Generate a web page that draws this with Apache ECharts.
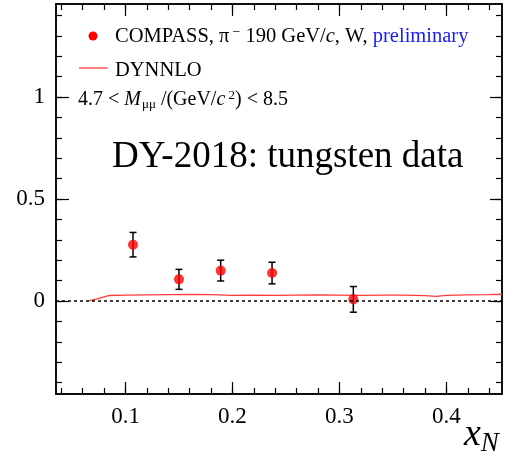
<!DOCTYPE html>
<html>
<head>
<meta charset="utf-8">
<script src="https://cdn.jsdelivr.net/npm/echarts@6/dist/echarts.min.js"></script>
<style>html,body{margin:0;padding:0;background:#fff;}#c{width:529px;height:463px;}</style>
</head>
<body>
<div id="c"></div>
<script>
// ---- data ----
var xN = [0.107, 0.150, 0.189, 0.237, 0.313];
var asym = [0.276, 0.106, 0.149, 0.137, 0.008];
var asymErr = [0.060, 0.049, 0.051, 0.053, 0.063];
var dynX = [0.066, 0.075, 0.085, 0.100, 0.120, 0.140, 0.160, 0.180, 0.200, 0.220, 0.240, 0.260, 0.280, 0.300, 0.320, 0.340, 0.360, 0.380, 0.390, 0.400, 0.420, 0.440, 0.452];
var dynY = [0.000, 0.013, 0.027, 0.029, 0.030, 0.031, 0.032, 0.031, 0.028, 0.029, 0.028, 0.029, 0.030, 0.029, 0.028, 0.029, 0.029, 0.026, 0.023, 0.028, 0.030, 0.031, 0.033];
var xMajorTicks = [0.1, 0.2, 0.3, 0.4];
var xMinorTicks = [0.04, 0.06, 0.08, 0.10, 0.12, 0.14, 0.16, 0.18, 0.20, 0.22, 0.24, 0.26, 0.28, 0.30, 0.32, 0.34, 0.36, 0.38, 0.40, 0.42, 0.44];
var yMajorTicks = [0, 0.5, 1];
var yMinorTicks = [-0.4, -0.3, -0.2, -0.1, 0, 0.1, 0.2, 0.3, 0.4, 0.5, 0.6, 0.7, 0.8, 0.9, 1.0, 1.1, 1.2, 1.3, 1.4];
var xLabels = ['0.1', '0.2', '0.3', '0.4'];
var yLabels = ['0', '0.5', '1'];

var FONT = 'Liberation Serif';
var XMIN = 0.035, XMAX = 0.452, YMIN = -0.456, YMAX = 1.456;

function xAxisDef(pos, ticks, len, labels) {
  return {
    type: 'value', position: pos, min: XMIN, max: XMAX,
    axisLine: {show: true, onZero: false, lineStyle: {color: '#000', width: 1.5}},
    axisTick: {show: true, inside: true, length: len, customValues: ticks, lineStyle: {color: '#000', width: 1.2}},
    axisLabel: labels ? {show: true, customValues: xMajorTicks, margin: 11, fontFamily: FONT, fontSize: 23, color: '#000',
      formatter: function (v) { var i = xMajorTicks.indexOf(+v.toFixed(3)); return i >= 0 ? xLabels[i] : ''; }} : {show: false},
    splitLine: {show: false}
  };
}
function yAxisDef(pos, ticks, len, labels) {
  return {
    type: 'value', position: pos, min: YMIN, max: YMAX,
    axisLine: {show: true, onZero: false, lineStyle: {color: '#000', width: 1.5}},
    axisTick: {show: true, inside: true, length: len, customValues: ticks, lineStyle: {color: '#000', width: 1.2}},
    axisLabel: labels ? {show: true, customValues: yMajorTicks, margin: 11, fontFamily: FONT, fontSize: 23, color: '#000',
      formatter: function (v) { var i = yMajorTicks.indexOf(+v.toFixed(3)); return i >= 0 ? yLabels[i] : ''; }} : {show: false},
    splitLine: {show: false}
  };
}

var chart = echarts.init(document.getElementById('c'), null, {renderer: 'canvas'});
var scatterData = xN.map(function (x, i) { return [x, asym[i]]; });
var errData = xN.map(function (x, i) { return [x, asym[i], asymErr[i]]; });
var lineData = dynX.map(function (x, i) { return [x, dynY[i]]; });

chart.setOption({
  animation: false,
  backgroundColor: '#fff',
  grid: {left: 56, right: 27, top: 4, bottom: 69, containLabel: false},
  xAxis: [
    xAxisDef('bottom', xMajorTicks, 12, true),
    xAxisDef('bottom', xMinorTicks, 6, false),
    xAxisDef('top', xMajorTicks, 12, false),
    xAxisDef('top', xMinorTicks, 6, false)
  ],
  yAxis: [
    yAxisDef('left', yMajorTicks, 13, true),
    yAxisDef('left', yMinorTicks, 6, false),
    yAxisDef('right', yMajorTicks, 12, false),
    yAxisDef('right', yMinorTicks, 6, false)
  ],
  series: [
    {
      name: 'DYNNLO', type: 'line', data: lineData, showSymbol: false, symbol: 'none',
      lineStyle: {color: '#ff3b3b', width: 1.3}, z: 2,
      markLine: {
        silent: true, symbol: 'none', label: {show: false},
        lineStyle: {color: '#000', type: [3, 3], width: 1.5},
        data: [{yAxis: 0}]
      }
    },
    {
      name: 'errors', type: 'custom', data: errData, z: 3,
      renderItem: function (params, api) {
        var x = api.value(0), y = api.value(1), e = api.value(2);
        var top = api.coord([x, y + e]);
        var bot = api.coord([x, y - e]);
        var cw = 3.5;
        var st = {stroke: '#000', lineWidth: 1.5};
        return {type: 'group', children: [
          {type: 'line', shape: {x1: top[0], y1: top[1], x2: bot[0], y2: bot[1]}, style: st},
          {type: 'line', shape: {x1: top[0] - cw, y1: top[1], x2: top[0] + cw, y2: top[1]}, style: st},
          {type: 'line', shape: {x1: bot[0] - cw, y1: bot[1], x2: bot[0] + cw, y2: bot[1]}, style: st}
        ]};
      }
    },
    {
      name: 'COMPASS', type: 'scatter', data: scatterData, symbol: 'circle', symbolSize: 10,
      itemStyle: {color: '#ff0000'}, z: 4
    }
  ],
  graphic: [
    {type: 'circle', shape: {cx: 93, cy: 36, r: 4.5}, style: {fill: '#ff0000'}},
    {type: 'text', left: 115, top: 25, style: {
      text: '{n|COMPASS, π}{s|−}{n| 190 GeV/}{i|c}{n|, W, }{b|preliminary}',
      rich: {
        n: {fontFamily: FONT, fontSize: 20.5, fill: '#000'},
        i: {fontFamily: FONT, fontSize: 20.5, fontStyle: 'italic', fill: '#000'},
        s: {fontFamily: FONT, fontSize: 14, fill: '#000', padding: [0, 0, 9, 3]},
        b: {fontFamily: FONT, fontSize: 20.5, fill: '#1a1aff'}
      }
    }},
    {type: 'line', shape: {x1: 79, y1: 68, x2: 108, y2: 68}, style: {stroke: '#ff3b3b', lineWidth: 1.3}},
    {type: 'text', left: 115, top: 60, style: {text: 'DYNNLO', fontFamily: FONT, fontSize: 20.5, fill: '#000'}},
    {type: 'text', left: 78, top: 89, style: {
      text: '{n|4.7 < }{i|M}{u|μμ}{n| /(GeV/}{i|c}{s| 2}{n|) < 8.5}',
      rich: {
        n: {fontFamily: FONT, fontSize: 20, fill: '#000'},
        i: {fontFamily: FONT, fontSize: 20, fontStyle: 'italic', fill: '#000'},
        u: {fontFamily: FONT, fontSize: 13, fill: '#000', padding: [9, 0, 0, 1]},
        s: {fontFamily: FONT, fontSize: 13, fill: '#000', padding: [0, 0, 9, 0]}
      }
    }},
    {type: 'text', left: 112, top: 139, style: {
      text: 'DY-2018: tungsten data', fontFamily: FONT, fontSize: 37, fill: '#000',
      shadowColor: 'rgba(0,0,0,0.45)', shadowBlur: 3, shadowOffsetX: 2, shadowOffsetY: 2
    }},
    {type: 'text', left: 464, top: 416, style: {
      text: '{x|x}{n|N}',
      rich: {
        x: {fontFamily: FONT, fontSize: 38, fontStyle: 'italic', fill: '#000'},
        n: {fontFamily: FONT, fontSize: 27, fontStyle: 'italic', fill: '#000', padding: [18, 0, 0, 0]}
      }
    }}
  ]
});
</script>
</body>
</html>
